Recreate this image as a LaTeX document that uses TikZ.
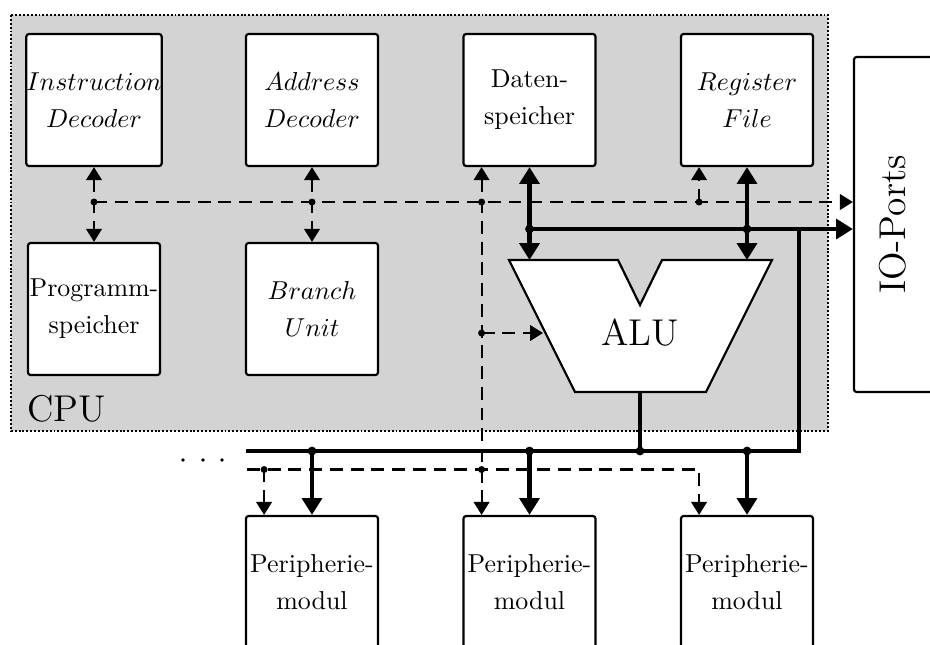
\documentclass[tikz,border=0pt]{standalone}
\usetikzlibrary{arrows.meta}
\definecolor{cpugray}{RGB}{211,211,211}
\begin{document}
\begin{tikzpicture}[x=0.386pt,y=-0.386pt,
  box/.style={draw, fill=white, line width=0.85pt, rounded corners=1pt,
    minimum width=50.95pt, minimum height=50.95pt, inner sep=0pt,
    align=center, font=\fontsize{10}{14.2}\selectfont},
  ctrl/.style={line width=0.8pt, dash pattern=on 5pt off 3pt},
  ctrlarr/.style={ctrl, -{Triangle[length=5pt,width=6pt]}},
  ctrlboth/.style={ctrl, {Triangle[length=5pt,width=6pt]}-{Triangle[length=5pt,width=6pt]}},
  bus/.style={line width=1.9pt},
  busarr/.style={bus, -{Triangle[length=6.5pt,width=7.6pt]}},
  busboth/.style={bus, {Triangle[length=6.5pt,width=7.6pt]}-{Triangle[length=6.5pt,width=7.6pt]}},
  sdot/.style={circle, fill, inner sep=0pt, minimum size=2.7pt},
  bdot/.style={circle, fill, inner sep=0pt, minimum size=3.4pt},
  biglabel/.style={font=\Large, inner sep=0pt}
]
\clip (0,0) rectangle (930,644);

% CPU background
\draw[fill=cpugray, line width=0.9pt, dash pattern=on 0.75pt off 0.75pt] (11,15) rectangle (828,431);
\node[biglabel, anchor=base west] (cpu) at (27,421) {CPU};

% ALU shape
\draw[fill=white, line width=0.85pt] (509,260) -- (618,260) -- (640,305) -- (662,260)
  -- (772,260) -- (706,392) -- (575,392) -- cycle;
\node[biglabel] (alu) at (640,333) {ALU};
\coordinate (aluL) at (529.5,260);
\coordinate (aluR) at (747,260);
\coordinate (aluIn) at (543,333);
\coordinate (aluOut) at (640,392);

% boxes
\node[box] (id) at (94,100) {$Instruction$\\$Decoder$};
\node[box] (ad) at (312,100) {$Address$\\$Decoder$};
\node[box] (ds) at (529.5,100) {Daten-\\speicher};
\node[box] (rf) at (747,100) {$Register$\\$File$};
\node[box] (pm) at (94,309) {Programm-\\speicher};
\node[box] (bu) at (312,309) {$Branch$\\$Unit$};
\node[box] (p1) at (312,582) {Peripherie-\\modul};
\node[box] (p2) at (529.5,582) {Peripherie-\\modul};
\node[box] (p3) at (747,582) {Peripherie-\\modul};
\node[draw, fill=white, line width=0.85pt, rounded corners=1pt, minimum width=31.65pt,
  minimum height=129.3pt, inner sep=0pt] (io) at (895,224.5) {};
\node[biglabel, rotate=90, anchor=base] (iolabel) at (905,224.5) {IO-Ports};

% helper coordinates
\coordinate (c1) at (94,202);
\coordinate (low) at (247,469.5);
\coordinate (bt) at (799,229);
\coordinate (bb) at (799,451);
\coordinate (bl) at (246,451);
\coordinate (dsc) at ([xshift=-18.5pt]ds.south);
\coordinate (rfc) at ([xshift=-18.5pt]rf.south);
\coordinate (p1c) at ([xshift=-18.5pt]p1.north);
\coordinate (p3c) at ([xshift=-18.5pt]p3.north);

% control (dashed) lines
\draw[ctrlboth] (id.south) -- (pm.north);
\draw[ctrlboth] (ad.south) -- (bu.north);
\draw[ctrlarr] (c1) -- (c1 -| io.west);
\draw[ctrlboth] (dsc) -- ([xshift=-18.5pt]p2.north);
\draw[ctrlarr] (rfc |- c1) -- (rfc);
\draw[ctrlarr] (dsc |- aluIn) -- (aluIn);
\draw[ctrlarr] (low) -- (p3c |- low) -- (p3c);
\draw[ctrlarr] (p1c |- low) -- (p1c);
\foreach \p in {(id.south |- c1), (ad.south |- c1), (dsc |- c1), (rfc |- c1),
  (dsc |- aluIn), (dsc |- low), (p1c |- low)}
  \node[sdot] at \p {};

% bus (thick) lines
\draw[busboth] (ds.south) -- (aluL);
\draw[busboth] (rf.south) -- (aluR);
\draw[busarr] (ds.south |- bt) -- (bt -| io.west);
\draw[bus] (bt) -- (bb) -- (bl);
\draw[bus] (aluOut) -- (aluOut |- bb);
\draw[busarr] (p1.north |- bb) -- (p1.north);
\draw[busarr] (p2.north |- bb) -- (p2.north);
\draw[busarr] (p3.north |- bb) -- (p3.north);
\foreach \p in {(ds.south |- bt), (rf.south |- bt), (aluOut |- bb),
  (p1.north |- bb), (p2.north |- bb), (p3.north |- bb)}
  \node[bdot] at \p {};

% ellipsis
\foreach \x in {183,203,222}
  \fill (\x,460) circle (0.75pt);
\end{tikzpicture}
\end{document}
